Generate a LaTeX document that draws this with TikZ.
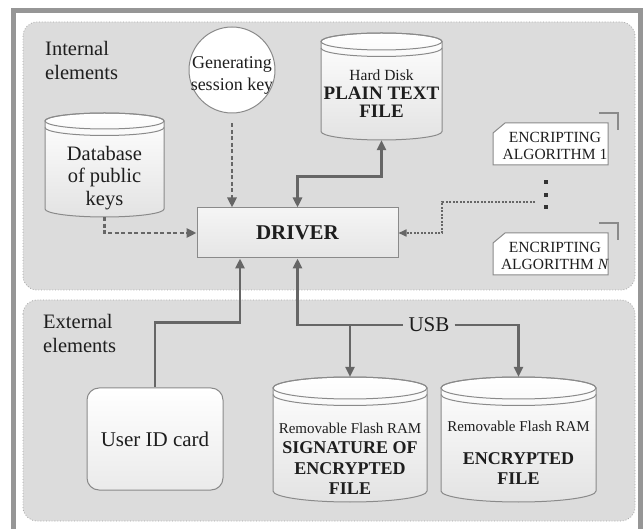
\documentclass[tikz,border=0pt]{standalone}
\usepackage{fontspec}
\setmainfont{Liberation Serif}
\usetikzlibrary{arrows.meta,calc}
\definecolor{panelfill}{HTML}{DCDCDC}
\definecolor{framecol}{HTML}{969696}
\definecolor{conncol}{HTML}{666666}
\definecolor{boxcol}{HTML}{8A8A8A}
\definecolor{dotborder}{HTML}{A5A5A5}
\definecolor{txtcol}{HTML}{1E1E1E}
\tikzset{
  >={Triangle[length=10pt,width=9pt]},
  panel/.style={fill=panelfill, draw=dotborder, line width=0.8pt, dotted, rounded corners=14pt},
  panellabel/.style={anchor=west, align=left, inner sep=0pt, text=txtcol, font=\fontsize{20.5}{24}\selectfont},
  conn/.style={draw=conncol, line width=2.5pt},
  dashconn/.style={draw=conncol, line width=2.5pt, dash pattern=on 4pt off 2.5pt},
  dotconn/.style={draw=conncol, line width=1.6pt, dash pattern=on 2pt off 1.5pt, -{Triangle[length=8pt,width=7pt]}},
  cylbody/.style={draw=boxcol, line width=1pt, top color=white, bottom color=black!11},
  cylline/.style={draw=boxcol, line width=1pt},
  cylnode/.style={inner sep=0pt, draw=none},
  cyltext/.style={align=center, inner sep=0pt, text=txtcol},
  driverbox/.style={draw=boxcol, line width=1pt, top color=white!96!black, bottom color=white!90!black,
    minimum width=201pt, minimum height=50pt, inner sep=0pt, text=txtcol, font=\bfseries\fontsize{21}{24}\selectfont},
  gencirc/.style={circle, draw=boxcol, line width=1pt, fill=white, minimum size=86pt, inner sep=0pt},
  gentext/.style={align=center, inner sep=0pt, text=txtcol, font=\fontsize{18}{22}\selectfont},
  uidbox/.style={draw=boxcol, line width=1pt, rounded corners=12pt, top color=white, bottom color=white!92!black,
    minimum width=136pt, minimum height=102pt, inner sep=0pt, text=txtcol, font=\fontsize{21}{24}\selectfont},
  algbox/.style={draw=boxcol, line width=1pt, fill=white},
  algbracket/.style={draw=boxcol, line width=1.5pt},
  algtext/.style={align=center, inner sep=0pt, text=txtcol, font=\fontsize{15.5}{17}\selectfont},
  usblabel/.style={inner sep=5pt, text=txtcol, font=\fontsize{21}{24}\selectfont}
}
\newcommand\drawcyl[6]{%
  \pgfmathsetmacro\cylcx{(#2+#3)/2}%
  \pgfmathsetmacro\cylrx{(#3-#2)/2}%
  \pgfmathsetmacro\cylyt{-(#4)-(#6)}%
  \pgfmathsetmacro\cylyb{-(#5)+(#6)}%
  \pgfmathsetmacro\cylrim{\cylyt-6.5}%
  \pgfmathsetmacro\cylcy{-((#4)+(#5))/2}%
  \pgfmathsetmacro\cylw{(#3)-(#2)}%
  \pgfmathsetmacro\cylh{(#5)-(#4)}%
  \path[cylbody] (#2,\cylyt) -- (#2,\cylyb) arc[start angle=180,end angle=360,x radius=\cylrx pt,y radius=#6pt]
     -- (#3,\cylyt) arc[start angle=0,end angle=180,x radius=\cylrx pt,y radius=#6pt] -- cycle;
  \draw[cylline] (\cylcx,\cylyt) ellipse[x radius=\cylrx pt,y radius=#6pt];
  \draw[cylline] (#2,\cylrim) arc[start angle=180,end angle=360,x radius=\cylrx pt,y radius=#6pt];
  \node[cylnode, minimum width=\cylw pt, minimum height=\cylh pt] (#1) at (\cylcx,\cylcy) {};
}
\begin{document}
\begin{tikzpicture}[x=1pt,y=1pt]
\useasboundingbox (0,0) rectangle (643,-529);
\fill[white] (0,0) rectangle (643,-529);
% outer frame
\draw[framecol, line width=4.5pt] (13.5,-10.5) rectangle (640.5,-536);
% panels
\path[panel] (23,-22) rectangle (635,-290);
\path[panel] (23,-300) rectangle (635,-521);
\node[panellabel] (intlabel) at (45,-60) {Internal\\elements};
\node[panellabel] (extlabel) at (43,-333.5) {External\\elements};

% internal elements
\node[gencirc] (gen) at (232,-70) {};
\node[gentext] (gentxt) at (232,-75) {Generating\\session key};
\drawcyl{db}{45}{164}{113}{217}{8}
\node[cyltext, font=\fontsize{20.5}{22.5}\selectfont] (dbtext) at (104.5,-178) {Database\\of public\\keys};
\drawcyl{hd}{321}{442}{33}{140}{8.5}
\node[cyltext, font=\bfseries\fontsize{19}{18}\selectfont] (hdtext) at (381.5,-94)
  {{\mdseries\fontsize{15.5}{16}\selectfont Hard Disk}\\[1pt]PLAIN TEXT\\FILE};
\node[driverbox] (driver) at (297.5,-233) {DRIVER};

% encrypting algorithms
\draw[algbracket] (599,-113) -- (618,-113) -- (618,-130);
\draw[algbox] (493,-133) -- (505,-123) -- (608,-123) -- (608,-165) -- (493,-165) -- cycle;
\node[algtext] (alg1) at (555,-145.5) {ENCRIPTING\\ALGORITHM 1};
\draw[algbracket] (599,-223) -- (618,-223) -- (618,-240);
\draw[algbox] (493,-243) -- (505,-233) -- (608,-233) -- (608,-275) -- (493,-275) -- cycle;
\node[algtext] (algN) at (555,-255.5) {ENCRIPTING\\ALGORITHM \textit{N}};
\fill[black!80] (544,-180.5) rectangle ++(4,-4);
\fill[black!80] (544,-193) rectangle ++(4,-4);
\fill[black!80] (544,-205.5) rectangle ++(4,-4);
\coordinate (algdots) at (535,-202);

% internal connectors
\draw[dashconn,->,shorten <=10pt] (gen) -- (gen |- driver.north);
\draw[dashconn,->] (db.south) |- (driver.west);
\draw[conn,<->] (driver.north) -- ++(0,31) -| (hd.south);
\draw[dotconn] (algdots) -- ++(-93,0) |- (driver.east);

% external elements
\node[uidbox] (uid) at (155,-439) {User ID card};
\drawcyl{sig}{273}{427}{377}{502}{11}
\node[cyltext, font=\bfseries\fontsize{18}{20.5}\selectfont] (sigtext) at (350,-459)
  {{\mdseries\fontsize{15}{16}\selectfont Removable Flash RAM}\\SIGNATURE OF\\ENCRYPTED\\FILE};
\drawcyl{enc}{441}{596}{377}{502}{11}
\node[cyltext, font=\bfseries\fontsize{18}{20.5}\selectfont] (enctext) at (518.5,-453)
  {{\mdseries\fontsize{15}{16}\selectfont Removable Flash RAM}\\[12pt]ENCRYPTED\\FILE};
\node[usblabel] (usb) at (429,-325) {USB};

% external connectors
\draw[conn,->] (uid.north) -- ++(0,65) -| ([xshift=-57.5pt]driver.south);
\draw[conn,<-] (driver.south) |- (usb.west);
\draw[conn,->] (usb.east) -| (enc.north);
\draw[conn,->] (sig.north |- usb.west) -- (sig.north);
\end{tikzpicture}
\end{document}
